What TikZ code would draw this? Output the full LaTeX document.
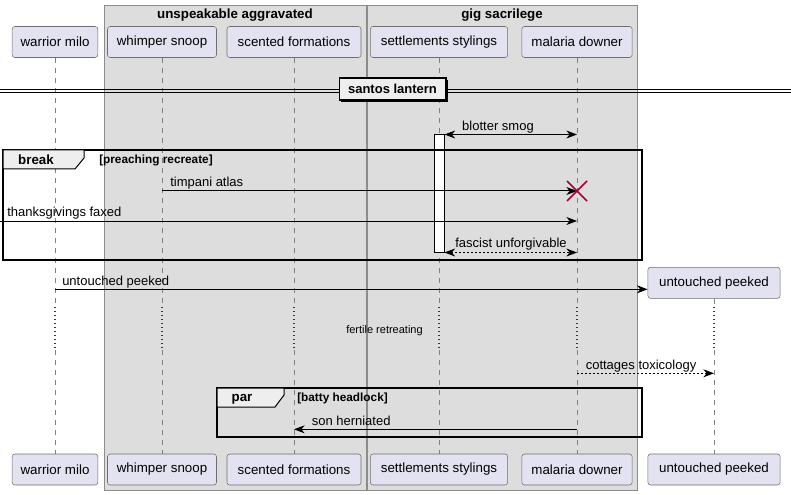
\documentclass[tikz,border=0pt]{standalone}
\usepackage{fontspec}
\setmainfont{Liberation Sans}
\usetikzlibrary{arrows.meta}

\definecolor{partfill}{RGB}{226,226,240}
\definecolor{partdraw}{RGB}{110,110,110}
\definecolor{boxfill}{RGB}{221,221,221}
\definecolor{boxdraw}{RGB}{140,140,140}
\definecolor{tabfill}{RGB}{238,238,238}
\definecolor{crimson}{RGB}{168,0,54}

\tikzset{
  >={Stealth[length=8pt,width=6pt,inset=2.5pt]},
  participant/.style={draw=partdraw, fill=partfill, rounded corners=2pt, minimum height=23.25pt, inner sep=0pt, font=\fontsize{10}{12}\selectfont},
  msgtext/.style={font=\fontsize{9.75}{11}\selectfont, inner sep=0pt},
  titletext/.style={font=\bfseries\fontsize{10}{11}\selectfont, inner sep=0pt},
  condtext/.style={font=\bfseries\fontsize{8.85}{10}\selectfont, inner sep=0pt},
  delaytext/.style={font=\fontsize{8.25}{10}\selectfont, inner sep=0pt},
  groupbox/.style={draw=boxdraw, fill=boxfill, line width=0.75pt},
  lifeline/.style={draw=gray, dash pattern=on 3.75pt off 3.75pt, line width=0.6pt},
  delayline/.style={draw=crimson, dash pattern=on 0.9pt off 2.1pt, line width=0.8pt},
  msg/.style={line width=0.75pt},
  reply/.style={line width=0.75pt, dash pattern=on 1.5pt off 1.5pt},
  frame/.style={draw=black, line width=1.1pt},
  tabbox/.style={draw=black, fill=tabfill, line width=0.75pt},
  actbar/.style={draw=black, fill=white, line width=0.75pt, minimum width=7.5pt, minimum height=87.75pt, inner sep=0pt},
}

\begin{document}
\begin{tikzpicture}[x=0.75pt,y=0.75pt,yscale=-1,xscale=1]
\useasboundingbox (0,0) rectangle (791,495);

% Boxes
\draw[groupbox] (104,6) rectangle (366,490);
\draw[groupbox] (367,6) rectangle (637,490);
\node[titletext] (boxa) at (235,15) {unspeakable aggravated};
\node[titletext] (boxb) at (502,15) {gig sacrilege};

% Rows
\coordinate (delayA) at (0,307);
\coordinate (delayB) at (0,350);

% Participants
\node[participant, minimum width=64.2pt] (wm) at (55,42) {warrior milo};
\node[participant, minimum width=81.75pt] (ws) at (162,42) {whimper snoop};
\node[participant, minimum width=100.5pt] (sf) at (294,42) {scented formations};
\node[participant, minimum width=103pt] (ss) at (439,42) {settlements stylings};
\node[participant, minimum width=82.7pt] (md) at (577,42) {malaria downer};
\node[participant, minimum width=64.2pt] (wm-b) at (55,469.5) {warrior milo};
\node[participant, minimum width=81.75pt] (ws-b) at (162,469.5) {whimper snoop};
\node[participant, minimum width=100.5pt] (sf-b) at (294,469.5) {scented formations};
\node[participant, minimum width=103pt] (ss-b) at (439,469.5) {settlements stylings};
\node[participant, minimum width=82.7pt] (md-b) at (577,469.5) {malaria downer};
\node[participant, minimum width=99.2pt] (up) at (714,282.8) {untouched peeked};
\node[participant, minimum width=99.2pt] (up-b) at (714,469.5) {untouched peeked};

% Lifelines
\foreach \p in {wm,ws,sf,ss,md,up} {
  \draw[lifeline] (\p.south) -- (\p |- delayA);
  \draw[delayline] (\p |- delayA) -- (\p |- delayB);
  \draw[lifeline] (\p |- delayB) -- (\p-b.north);
}

% Divider
\draw[line width=0.75pt] (0,89.5) -- (791,89.5);
\draw[line width=0.75pt] (0,92.5) -- (791,92.5);
\fill (341,80) rectangle (448,102);
\node[draw=black, fill=tabfill, line width=1pt, minimum width=80pt, minimum height=16.5pt, inner sep=0pt, font=\bfseries\fontsize{9.75}{11}\selectfont] (div) at (392.5,89) {santos lantern};

% Activation
\node[actbar] (act) at (439,193.5) {};

% blotter smog
\draw[msg, <->] (act.north east) -- (md |- act.north);
\node[msgtext, anchor=base] (lblsmog) at (498,131) {blotter smog};

% break frame
\draw[frame] (3,150) rectangle (642,260);
\draw[tabbox] (3,150) -- (84,150) -- (84,158) -- (75,169) -- (3,169) -- cycle;
\node[titletext] (brk) at (36,160) {break};
\node[condtext, anchor=west] (brkcond) at (99,160) {[preaching recreate]};

% timpani atlas
\coordinate (row1) at (0,191);
\draw[msg, ->] (ws |- row1) -- (md |- row1);
\node[msgtext, anchor=base west] (lbltimp) at (170,186.5) {timpani atlas};
\coordinate (dx) at (md |- row1);
\draw[crimson, line width=1.3pt] ([shift={(-10,-10)}]dx) -- ([shift={(10,10)}]dx);
\draw[crimson, line width=1.3pt] ([shift={(-10,10)}]dx) -- ([shift={(10,-10)}]dx);

% thanksgivings faxed
\coordinate (lost) at (0,221);
\draw[msg, ->] (lost) -- (md |- lost);
\node[msgtext, anchor=base west] (lblthanks) at (7,216.5) {thanksgivings faxed};

% fascist unforgivable
\draw[reply, <->] (act.south east) -- (md |- act.south);
\node[msgtext, anchor=base] (lblfasc) at (511,247.5) {fascist unforgivable};

% untouched peeked
\coordinate (row4) at (0,289.3);
\draw[msg, ->] (wm |- row4) -- (up.west |- row4);
\node[msgtext, anchor=base west] (lblpeek) at (62,285) {untouched peeked};

% delay
\node[delaytext] (delay) at (384.5,331) {fertile retreating};

% cottages toxicology
\coordinate (row5) at (0,373.3);
\draw[reply, ->] (md |- row5) -- (up |- row5);
\node[msgtext, anchor=base west] (lblcott) at (585.5,369) {cottages toxicology};

% par frame
\draw[frame] (217,388) rectangle (642,437);
\draw[tabbox] (217,388) -- (284,388) -- (284,395) -- (275,407) -- (217,407) -- cycle;
\node[titletext] (par) at (242,399) {par};
\node[condtext, anchor=west] (parcond) at (297,398) {[batty headlock]};

% son herniated
\coordinate (row6) at (0,429.3);
\draw[msg, ->] (md |- row6) -- (sf |- row6);
\node[msgtext, anchor=base west] (lblson) at (311.5,425) {son herniated};

\end{tikzpicture}
\end{document}
